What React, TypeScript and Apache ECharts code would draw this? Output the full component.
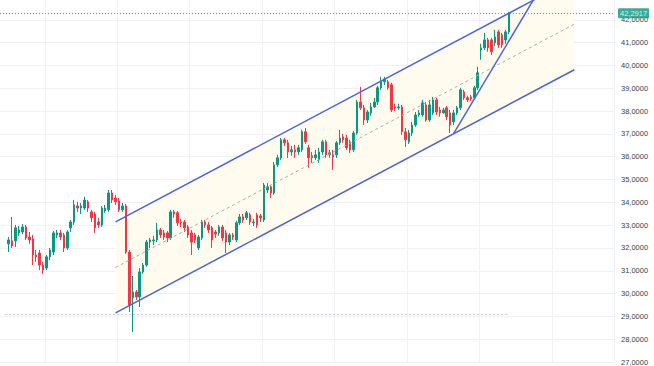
import React, { useEffect, useRef } from "react";
import * as echarts from "echarts";

// OHLC candles: [open, close, low, high]
const candles: number[][] = [
  [32.18, 32.35, 31.82, 32.48], [32.31, 32.09, 32.0, 33.36], [32.31, 32.88, 32.04, 33.01], [32.66, 32.79, 32.53, 32.96],
  [32.7, 32.92, 32.61, 33.05], [32.92, 32.44, 32.35, 33.01], [32.48, 32.35, 32.18, 32.7], [32.39, 31.69, 31.25, 32.57],
  [31.69, 31.61, 31.39, 31.91], [31.78, 31.25, 31.03, 31.91], [31.25, 31.03, 30.86, 31.39], [31.12, 31.61, 31.03, 31.69],
  [31.61, 31.91, 31.47, 32.0], [31.82, 32.66, 31.69, 32.74], [32.57, 32.66, 32.44, 32.79], [32.66, 32.48, 32.35, 32.79],
  [32.57, 32.0, 31.82, 32.66], [32.0, 32.7, 31.91, 32.79], [32.88, 33.14, 32.7, 33.23], [33.14, 33.89, 33.01, 34.1],
  [33.84, 33.75, 33.58, 34.02], [33.75, 33.84, 33.49, 33.97], [33.75, 34.1, 33.67, 34.24], [34.02, 33.75, 33.58, 34.1],
  [33.58, 33.32, 33.14, 33.67], [33.49, 32.88, 32.66, 33.58], [33.14, 33.01, 32.88, 33.32], [33.01, 33.75, 32.92, 33.84],
  [33.62, 33.75, 33.54, 33.89], [33.67, 34.41, 33.58, 34.54], [34.41, 34.1, 33.97, 34.54], [34.19, 34.02, 33.89, 34.33],
  [34.06, 33.67, 33.58, 34.19], [33.67, 33.84, 33.58, 33.97],
  [33.84, 31.82, 31.74, 33.93], [31.82, 29.5, 29.19, 31.91], [29.81, 30.07, 28.31, 30.77], [30.07, 29.85, 29.72, 30.16],
  [29.85, 30.95, 29.41, 31.12], [30.95, 31.25, 30.86, 31.34], [31.25, 32.26, 31.17, 32.35], [32.26, 32.35, 32.0, 32.44],
  [32.31, 32.35, 32.13, 32.53], [32.35, 32.79, 32.26, 33.1], [32.79, 32.57, 32.44, 32.88], [32.66, 32.48, 32.35, 32.79],
  [32.66, 32.44, 32.26, 32.74], [32.44, 33.58, 32.35, 33.67], [33.58, 33.49, 33.32, 33.67], [33.54, 33.1, 32.96, 33.62],
  [33.14, 33.1, 32.92, 33.27], [33.14, 32.88, 32.7, 33.23], [32.92, 32.57, 32.44, 33.01], [32.66, 32.26, 31.69, 32.79],
  [32.57, 32.35, 32.22, 32.66], [32.0, 32.48, 31.91, 32.57], [32.44, 33.14, 32.35, 33.23], [33.14, 33.01, 32.88, 33.23],
  [33.01, 32.79, 32.66, 33.14], [32.88, 32.35, 32.0, 32.96], [32.7, 32.61, 32.44, 32.79], [32.66, 32.92, 32.53, 33.01],
  [32.92, 32.44, 32.31, 33.01], [32.66, 32.26, 31.78, 32.79], [32.26, 32.57, 32.13, 32.66], [32.57, 32.48, 32.35, 32.66],
  [32.35, 33.1, 32.26, 33.19], [33.1, 33.36, 33.01, 33.49], [33.36, 33.23, 33.1, 33.49], [33.32, 33.54, 33.23, 33.62],
  [33.45, 33.14, 33.01, 33.54], [33.1, 33.14, 32.96, 33.27], [33.45, 33.01, 32.88, 33.54], [33.4, 33.32, 33.14, 33.49],
  [33.23, 34.76, 33.14, 34.85], [34.54, 34.68, 34.41, 34.85], [34.68, 34.41, 34.19, 34.76], [34.41, 35.64, 34.33, 35.77],
  [35.64, 35.95, 35.55, 36.08], [35.95, 36.74, 35.86, 36.82], [36.74, 36.61, 36.47, 36.82], [36.61, 36.21, 35.95, 36.74],
  [36.21, 36.3, 36.04, 36.47], [36.3, 36.21, 35.95, 36.52], [36.21, 36.39, 36.08, 36.52], [36.3, 37.09, 36.21, 37.18],
  [37.09, 36.65, 36.56, 37.26], [36.39, 35.95, 35.51, 36.52], [36.04, 35.95, 35.73, 36.21], [35.95, 36.08, 35.86, 36.3],
  [35.86, 36.21, 35.73, 36.39], [36.21, 36.65, 36.08, 36.74], [36.65, 36.08, 35.95, 36.74], [36.08, 36.17, 35.95, 36.3],
  [36.08, 35.99, 35.42, 36.3], [36.08, 36.61, 35.95, 36.69], [36.61, 36.82, 36.52, 37.18], [36.87, 36.74, 36.61, 37.0],
  [36.82, 36.39, 36.3, 36.96], [36.65, 36.3, 36.17, 36.74], [36.3, 37.04, 36.21, 37.13], [37.04, 38.4, 36.96, 38.49],
  [38.4, 38.14, 38.05, 39.06], [38.14, 37.61, 37.39, 38.27], [37.61, 37.96, 37.48, 38.05], [37.92, 38.18, 37.79, 38.36],
  [38.18, 38.4, 38.14, 38.58], [38.4, 39.02, 38.27, 39.1], [39.02, 39.28, 38.93, 39.5], [39.28, 39.41, 39.15, 39.5],
  [39.28, 39.02, 38.93, 39.37], [39.15, 38.05, 37.96, 39.24], [38.18, 38.14, 38.01, 38.32], [38.14, 38.18, 38.05, 38.32],
  [38.18, 37.09, 36.96, 38.27], [37.09, 36.74, 36.43, 37.26], [36.65, 37.04, 36.56, 37.18], [37.04, 37.39, 36.91, 37.53],
  [37.39, 37.83, 37.31, 37.96], [37.83, 37.92, 37.75, 38.05], [37.83, 38.36, 37.75, 38.49], [38.27, 37.61, 37.53, 38.4],
  [37.61, 38.27, 37.53, 38.49], [37.92, 38.49, 37.83, 38.62], [38.49, 37.96, 37.83, 38.58], [38.05, 37.92, 37.75, 38.18],
  [37.92, 38.05, 37.88, 38.14], [38.14, 37.75, 37.61, 38.23], [37.92, 37.39, 37.04, 38.05], [37.53, 37.92, 37.39, 38.05],
  [37.92, 38.14, 37.83, 38.23], [38.14, 38.93, 38.05, 39.02], [38.84, 38.58, 38.49, 38.93], [38.58, 38.49, 38.4, 38.67],
  [38.62, 38.54, 38.45, 38.71], [38.58, 39.02, 38.49, 39.1], [39.02, 39.68, 38.93, 39.94], [40.68, 40.77, 40.25, 40.95],
  [40.77, 41.12, 40.68, 41.43], [41.12, 40.77, 40.6, 41.21], [41.12, 40.6, 40.46, 41.21], [40.99, 41.25, 40.86, 41.56],
  [41.47, 40.9, 40.77, 41.56], [41.34, 40.9, 40.77, 41.43], [41.12, 41.47, 40.95, 41.56], [41.47, 42.2917, 41.38, 42.35],
];

const leadingSlots = 2;
const totalSlots = 178;
const categories: string[] = Array.from({ length: totalSlots }, (_, i) => `D${i + 1}`);

const yTicks = { min: 27, max: 43, interval: 1 };
const lastPrice = 42.2917;
const supportLevel = 29.1;
const supportSpan = [1, 147];

// Channel anchors: [category, lower, upper]; wedge: [startCat, startVal, endCat, endVal]
const channelStart = [33, 29.15, 33.14];
const channelEnd = [166, 39.81, 43.81];
const wedgeLine = [131, 37.01, 154, 42.84];

const upColor = "#089981";
const downColor = "#f23645";
const channelColor = "#4a63dc";

const fmt = (v: number) => v.toFixed(4).replace(".", ",");

export default function App() {
  const ref = useRef<HTMLDivElement>(null);
  useEffect(() => {
    if (!ref.current) return;
    const chart = echarts.init(ref.current, null, { renderer: "svg" });
    const seriesData: any[] = [];
    for (let i = 0; i < leadingSlots; i++) seriesData.push(["-", "-", "-", "-"]);
    candles.forEach((c) => seriesData.push(c));

    const channelData = [[
      channelStart[0], channelStart[1], channelStart[2],
      channelEnd[0], channelEnd[1], channelEnd[2],
      wedgeLine[0], wedgeLine[1], wedgeLine[2], wedgeLine[3],
    ]];

    const pts = (api: any) => {
      const s = api.coord([api.value(0), api.value(1)]);
      const su = api.coord([api.value(0), api.value(2)]);
      const e = api.coord([api.value(3), api.value(4)]);
      const eu = api.coord([api.value(3), api.value(5)]);
      const ws = api.coord([api.value(6), api.value(7)]);
      const we = api.coord([api.value(8), api.value(9)]);
      return { s, su, e, eu, ws, we };
    };

    chart.setOption({
      animation: false,
      backgroundColor: "#ffffff",
      grid: { left: 0, right: 40, top: -3, bottom: 4, containLabel: false, outerBoundsMode: "none" },
      xAxis: {
        type: "category",
        data: categories,
        boundaryGap: true,
        axisLine: { show: false },
        axisTick: { show: false },
        axisLabel: { show: false },
        splitLine: {
          show: true,
          interval: (index: number) => index % 21 === 13,
          lineStyle: { color: "#eff1f5", width: 1 },
        },
      },
      yAxis: {
        type: "value",
        position: "right",
        min: yTicks.min,
        max: yTicks.max,
        interval: yTicks.interval,
        axisLine: { show: false },
        axisTick: { show: false },
        axisLabel: {
          margin: 7,
          color: "#3a3e47",
          fontSize: 7.5,
          fontFamily: "Liberation Sans, Arial, sans-serif",
          formatter: (v: number) => (v >= yTicks.max ? "" : fmt(v)),
        },
        splitLine: { show: true, lineStyle: { color: "#eff1f5", width: 1 } },
      },
      series: [
        {
          type: "custom",
          z: 1,
          clip: true,
          silent: true,
          encode: { x: [0, 3], y: [1, 2, 4, 5] },
          data: channelData,
          renderItem: (_params: any, api: any) => {
            const { s, su, e, eu } = pts(api);
            return {
              type: "polygon",
              shape: { points: [su, eu, e, s] },
              style: { fill: "#fffcef" },
            };
          },
        },
        {
          type: "candlestick",
          z: 2,
          data: seriesData,
          barWidth: 2,
          itemStyle: {
            color: upColor,
            color0: downColor,
            borderColor: upColor,
            borderColor0: downColor,
            borderWidth: 1,
          },
          markLine: {
            silent: true,
            symbol: "none",
            animation: false,
            data: [
              {
                yAxis: lastPrice,
                lineStyle: { color: upColor, type: [1, 2], width: 1, opacity: 0.8 },
                label: {
                  show: true,
                  position: "end",
                  distance: 4,
                  formatter: () => fmt(lastPrice),
                  color: "#ffffff",
                  backgroundColor: upColor,
                  fontSize: 7.5,
                  fontFamily: "Liberation Sans, Arial, sans-serif",
                  padding: [1, 2, 1, 2],
                  borderRadius: 1,
                },
              },
              [
                {
                  coord: [categories[supportSpan[0]], supportLevel],
                  lineStyle: { color: "#d2c6da", type: [2, 2], width: 1 },
                  label: { show: false },
                },
                { coord: [categories[supportSpan[1]], supportLevel] },
              ],
            ],
          },
        },
        {
          type: "custom",
          z: 3,
          clip: true,
          silent: true,
          encode: { x: [0, 3, 6, 8], y: [1, 2, 4, 5, 7, 9] },
          data: channelData,
          renderItem: (_params: any, api: any) => {
            const { s, su, e, eu, ws, we } = pts(api);
            const ms = [(s[0] + su[0]) / 2, (s[1] + su[1]) / 2];
            const me = [(e[0] + eu[0]) / 2, (e[1] + eu[1]) / 2];
            return {
              type: "group",
              children: [
                {
                  type: "line",
                  shape: { x1: ms[0], y1: ms[1], x2: me[0], y2: me[1] },
                  style: { stroke: "#a9adb6", lineWidth: 1, lineDash: [3, 3] },
                },
                {
                  type: "line",
                  shape: { x1: su[0], y1: su[1], x2: eu[0], y2: eu[1] },
                  style: { stroke: channelColor, lineWidth: 1.5 },
                },
                {
                  type: "line",
                  shape: { x1: s[0], y1: s[1], x2: e[0], y2: e[1] },
                  style: { stroke: channelColor, lineWidth: 1.5 },
                },
                {
                  type: "line",
                  shape: { x1: ws[0], y1: ws[1], x2: we[0], y2: we[1] },
                  style: { stroke: channelColor, lineWidth: 1.5 },
                },
              ],
            };
          },
        },
      ],
    });
    return () => chart.dispose();
  }, []);

  return (
    <div
      ref={ref}
      style={{ position: "fixed", left: 0, top: 0, width: 654, height: 366, background: "#fff" }}
    />
  );
}
